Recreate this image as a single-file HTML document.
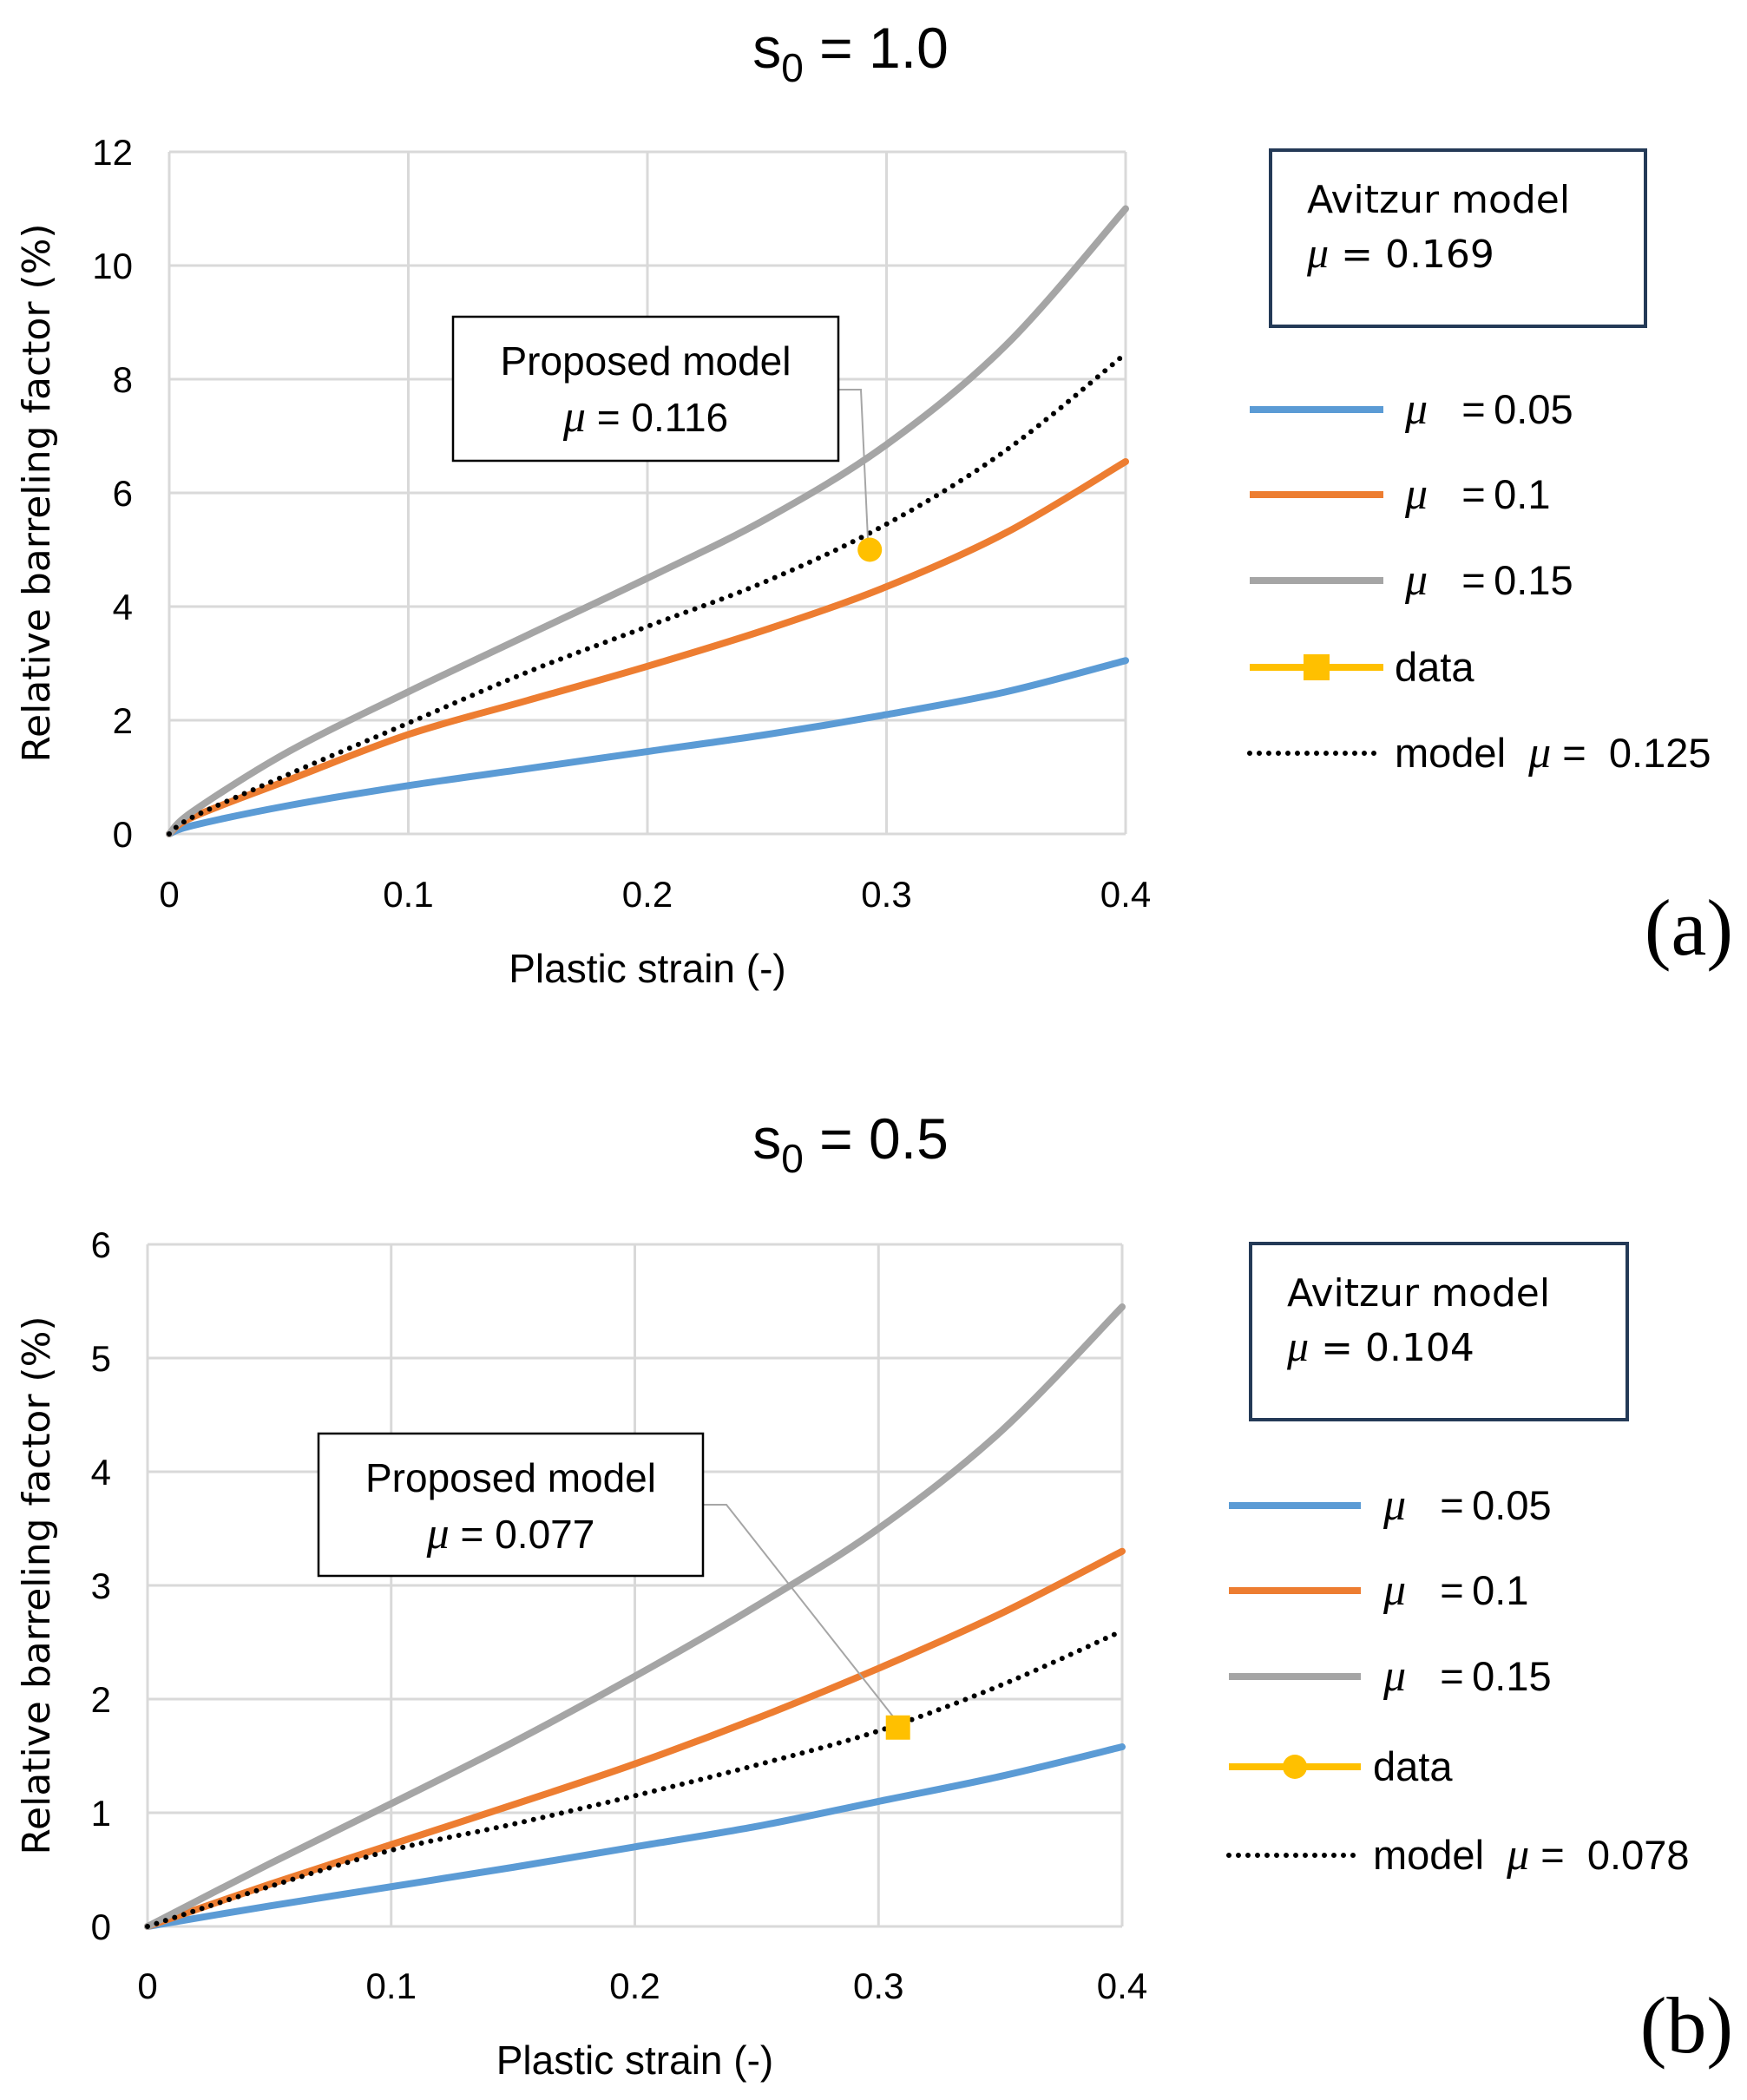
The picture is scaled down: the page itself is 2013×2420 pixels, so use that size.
<!DOCTYPE html>
<html><head><meta charset="utf-8"><style>
html,body{margin:0;padding:0;background:#fff;}
svg{display:block;}
.mu{font-family:"Liberation Serif",serif;font-style:italic;}
</style></head><body>
<svg id="fig" width="2013" height="2420" viewBox="0 0 2013 2420" xmlns="http://www.w3.org/2000/svg" font-family="Liberation Sans, sans-serif"></svg>
<script>
// ---- data chart (a): s0 = 1.0 ----
const strainA = [0, 0.01, 0.05, 0.1, 0.15, 0.2, 0.25, 0.3, 0.35, 0.4];
const blueA   = [0, 0.15, 0.5, 0.85, 1.15, 1.45, 1.75, 2.1, 2.5, 3.05];
const orangeA = [0, 0.3, 0.95, 1.75, 2.35, 2.95, 3.6, 4.35, 5.3, 6.55];
const grayA   = [0, 0.4, 1.45, 2.5, 3.5, 4.5, 5.55, 6.85, 8.6, 11.0];
const modelA  = [0, 0.3, 1.05, 1.95, 2.85, 3.65, 4.45, 5.45, 6.75, 8.45];
const dataA   = [[0.293, 5.0]];
const yTicksA = [0, 2, 4, 6, 8, 10, 12];
const xTicks  = [0, 0.1, 0.2, 0.3, 0.4];
const xTickLabels = ["0", "0.1", "0.2", "0.3", "0.4"];
// ---- data chart (b): s0 = 0.5 ----
const strainB = [0, 0.05, 0.1, 0.15, 0.2, 0.25, 0.3, 0.35, 0.4];
const blueB   = [0, 0.18, 0.35, 0.52, 0.7, 0.88, 1.1, 1.32, 1.58];
const orangeB = [0, 0.37, 0.72, 1.07, 1.43, 1.83, 2.27, 2.75, 3.3];
const grayB   = [0, 0.55, 1.08, 1.62, 2.2, 2.82, 3.5, 4.35, 5.45];
const modelB  = [0, 0.35, 0.67, 0.9, 1.15, 1.42, 1.72, 2.12, 2.6];
const dataB   = [[0.308, 1.75]];
const yTicksB = [0, 1, 2, 3, 4, 5, 6];

const NS = "http://www.w3.org/2000/svg";
const svg = document.getElementById("fig");
function el(tag, attrs, parent, txt) {
  const e = document.createElementNS(NS, tag);
  for (const k in attrs) e.setAttribute(k, attrs[k]);
  if (txt !== undefined) e.textContent = txt;
  (parent || svg).appendChild(e);
  return e;
}
function smoothPath(pts) {
  let d = "M" + pts[0][0] + "," + pts[0][1];
  for (let i = 0; i < pts.length - 1; i++) {
    const p0 = pts[Math.max(0, i - 1)], p1 = pts[i], p2 = pts[i + 1], p3 = pts[Math.min(pts.length - 1, i + 2)];
    const c1x = p1[0] + (p2[0] - p0[0]) / 6, c1y = p1[1] + (p2[1] - p0[1]) / 6;
    const c2x = p2[0] - (p3[0] - p1[0]) / 6, c2y = p2[1] - (p3[1] - p1[1]) / 6;
    d += " C" + c1x + "," + c1y + " " + c2x + "," + c2y + " " + p2[0] + "," + p2[1];
  }
  return d;
}

function chart(cfg) {
  const g = el("g", {});
  
  
  const sx = v => cfg.x0 + (v - 0) / 0.4 * (cfg.x1 - cfg.x0);
  const sy = v => cfg.y0 - v / cfg.ymax * (cfg.y0 - cfg.y1);
  const t = el("text", {x: 980, y: cfg.titleY, "text-anchor": "middle", "font-size": "66"}, g);
  
  
  el("tspan", {}, t, "s");
  el("tspan", {dy: "16", "font-size": "46"}, t, "0");
  el("tspan", {dy: "-16"}, t, " = " + cfg.title);
  cfg.yTicks.forEach(v => {
    const l = el("line", {x1: cfg.x0, x2: cfg.x1, y1: sy(v), y2: sy(v), stroke: "#d9d9d9", "stroke-width": 3}, g);
    
    
    const tl = el("text", {x: cfg.x0 - 42, y: sy(v) + 15, "text-anchor": "end", "font-size": "42"}, g, String(v));
    
    
  });
  xTicks.forEach((v, i) => {
    const l = el("line", {x1: sx(v), x2: sx(v), y1: cfg.y0, y2: cfg.y1, stroke: "#d9d9d9", "stroke-width": 3}, g);
    
    
    const tl = el("text", {x: sx(v), y: cfg.xTickY, "text-anchor": "middle", "font-size": "42"}, g, xTickLabels[i]);
    
    
  });
  const xt = el("text", {x: (cfg.x0 + cfg.x1) / 2, y: cfg.xTitleY, "text-anchor": "middle", "font-size": "46"}, g, "Plastic strain (-)");
  
  
  const yc = (cfg.y0 + cfg.y1) / 2;
  const yt = el("text", {x: 57, y: yc, "text-anchor": "middle", "font-size": "44", "font-family": "DejaVu Sans, sans-serif", transform: "rotate(-90 57 " + yc + ")"}, g, "Relative barreling factor (%)");
  
  
  const series = [
    [cfg.blue, "#5b9bd5", "series-mu-0.05"],
    [cfg.orange, "#ed7d31", "series-mu-0.1"],
    [cfg.gray, "#a5a5a5", "series-mu-0.15"]
  ];
  series.forEach(s => {
    const p = el("path", {d: smoothPath(cfg.xs.map((x, i) => [sx(x), sy(s[0][i])])), fill: "none", stroke: s[1], "stroke-width": 8, "stroke-linecap": "round"}, g);
    
    
  });
  const m = el("path", {d: smoothPath(cfg.xs.map((x, i) => [sx(x), sy(cfg.model[i])])), fill: "none", stroke: "#000", "stroke-width": 6, "stroke-dasharray": "0 11", "stroke-linecap": "round"}, g);
  
  
  const dp = cfg.data[0];
  const b = cfg.pbox;
  const ld = el("polyline", {points: (b[0] + b[2]) + "," + cfg.leadY + " " + cfg.leadX + "," + cfg.leadY + " " + (sx(dp[0]) - 2) + "," + (sy(dp[1]) - 8), fill: "none", stroke: "#a6a6a6", "stroke-width": 2}, g);
  
  
  if (cfg.marker === "circle") {
    const c = el("circle", {cx: sx(dp[0]), cy: sy(dp[1]), r: 14, fill: "#ffc000"}, g);
    
    
  } else {
    const r = el("rect", {x: sx(dp[0]) - 14, y: sy(dp[1]) - 14, width: 28, height: 28, fill: "#ffc000"}, g);
    
    
  }
  const pb = el("rect", {x: b[0], y: b[1], width: b[2], height: b[3], fill: "#fff", stroke: "#000", "stroke-width": 2.5}, g);
  
  
  const pt1 = el("text", {x: b[0] + b[2] / 2, y: b[1] + 67, "text-anchor": "middle", "font-size": "46"}, g, "Proposed model");
  
  
  const pt2 = el("text", {x: b[0] + b[2] / 2, y: b[1] + 132, "text-anchor": "middle", "font-size": "46"}, g);
  
  
  el("tspan", {class: "mu", "font-size": "52"}, pt2, "μ");
  el("tspan", {}, pt2, " = " + cfg.pmu);
  const a = cfg.abox;
  const ab = el("rect", {x: a[0], y: a[1], width: a[2], height: a[3], fill: "#fff", stroke: "#243a57", "stroke-width": 4}, g);
  
  
  const at1 = el("text", {x: a[0] + 42, y: a[1] + 72, "font-size": "44", "font-family": "DejaVu Sans, sans-serif"}, g, "Avitzur model");
  
  
  const at2 = el("text", {x: a[0] + 42, y: a[1] + 135, "font-size": "44", "font-family": "DejaVu Sans, sans-serif"}, g);
  
  
  el("tspan", {class: "mu", "font-size": "50"}, at2, "μ");
  el("tspan", {}, at2, " = " + cfg.amu);
  const L = cfg.legend;
  const items = [["#5b9bd5", "0.05"], ["#ed7d31", "0.1"], ["#a5a5a5", "0.15"]];
  items.forEach((it, i) => {
    const y = L.ys[i];
    const ll = el("line", {x1: L.x0, x2: L.x1, y1: y, y2: y, stroke: it[0], "stroke-width": 8}, g);
    
    
    const lt = el("text", {x: L.tx + 4, y: y + 16, "font-size": "47"}, g);
    
    
    el("tspan", {class: "mu", "font-size": "52"}, lt, "μ");
    el("tspan", {}, lt, "\u00a0\u00a0 =\u202f" + it[1]);
  });
  const yd = L.ys[3];
  const dl = el("line", {x1: L.x0, x2: L.x1, y1: yd, y2: yd, stroke: "#ffc000", "stroke-width": 8}, g);
  
  
  const mx = (L.x0 + L.x1) / 2;
  if (cfg.legendMarker === "square") {
    el("rect", {x: mx - 15, y: yd - 15, width: 30, height: 30, fill: "#ffc000"}, g);
  } else {
    el("circle", {cx: mx, cy: yd, r: 14, fill: "#ffc000"}, g);
  }
  const dt = el("text", {x: L.tx - 8, y: yd + 16, "font-size": "47"}, g, "data");
  
  
  const ym = L.ys[4];
  const ml = el("line", {x1: L.x0, x2: L.x1, y1: ym, y2: ym, stroke: "#000", "stroke-width": 6, "stroke-dasharray": "0 11", "stroke-linecap": "round"}, g);
  
  
  const mt = el("text", {x: L.tx - 8, y: ym + 16, "font-size": "47"}, g);
  
  
  el("tspan", {}, mt, "model\u00a0\u00a0");
  el("tspan", {class: "mu", "font-size": "52"}, mt, "μ");
  el("tspan", {}, mt, " =\u00a0 " + cfg.mmu);
  const pl = el("text", {x: 1997, y: cfg.panelY, "text-anchor": "end", "font-size": "92", "font-family": "Liberation Serif, serif"}, g, cfg.panel);
  
  
}

chart({
  name: "chart-a", title: "1.0", titleY: 78, x0: 195, x1: 1297, y0: 961, y1: 175, ymax: 12,
  yTicks: yTicksA, xTickY: 1045, xTitleY: 1132,
  xs: strainA, blue: blueA, orange: orangeA, gray: grayA, model: modelA, data: dataA,
  marker: "circle", legendMarker: "square",
  pbox: [522, 365, 444, 166], pmu: "0.116", leadX: 992, leadY: 449,
  abox: [1464, 173, 432, 203], amu: "0.169",
  legend: {x0: 1440, x1: 1594, tx: 1615, ys: [472, 570, 669, 769, 868]},
  mmu: "0.125", panel: "(a)", panelY: 1100
});
chart({
  name: "chart-b", title: "0.5", titleY: 1335, x0: 170, x1: 1293, y0: 2220, y1: 1434, ymax: 6,
  yTicks: yTicksB, xTickY: 2303, xTitleY: 2390,
  xs: strainB, blue: blueB, orange: orangeB, gray: grayB, model: modelB, data: dataB,
  marker: "square", legendMarker: "circle",
  pbox: [367, 1652, 443, 164], pmu: "0.077", leadX: 837, leadY: 1734,
  abox: [1441, 1433, 434, 203], amu: "0.104",
  legend: {x0: 1416, x1: 1568, tx: 1590, ys: [1735, 1833, 1932, 2036, 2138]},
  mmu: "0.078", panel: "(b)", panelY: 2365
});
</script>
</body></html>
